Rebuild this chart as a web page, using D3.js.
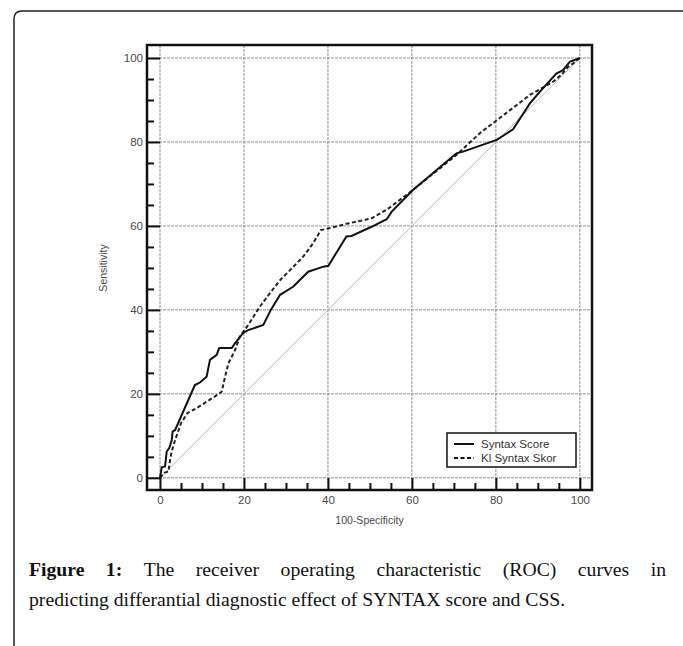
<!DOCTYPE html>
<html>
<head>
<meta charset="utf-8">
<script src="https://cdn.jsdelivr.net/npm/d3@7"></script>
<style>
  html, body { margin: 0; padding: 0; background: #fff; }
  svg { display: block; }
</style>
</head>
<body>
<div class="chart"></div>
<script>
// ROC points: [100-specificity, sensitivity]
var syntaxScore = [
    [0, 0], [0.4, 2.5], [1.2, 2.7], [1.6, 6.3], [2.2, 7.1], [2.8, 9], [3.0, 11], [3.6, 11.4],
    [8.3, 22.1], [9.5, 22.7], [11.1, 24.1], [11.9, 28.1], [13.5, 29.3], [14.1, 30.9], [17.1, 30.9],
    [17.9, 32.1], [19.8, 34.5], [21.0, 35.2], [24.6, 36.4], [26.4, 40], [28.6, 43.6], [31.7, 45.5],
    [35.3, 49.1], [38.9, 50.3], [40.1, 50.5], [44.4, 57.5], [45.6, 57.6], [50.4, 59.8], [54, 61.6],
    [55.2, 63.4], [60.3, 68.6], [70.6, 77.3], [72.2, 77.7], [80.2, 80.5], [84.1, 83], [88.1, 89.2],
    [90.5, 92], [94.4, 96.3], [96, 97.1], [97.6, 99.1], [100, 100]
];
var kiSyntaxSkor = [
    [0, 0], [1, 1.2], [2, 1.5], [2.4, 4.3], [2.8, 6.3], [3.6, 9], [5, 13], [6.5, 15.4], [8.7, 16.6],
    [13.1, 19.4], [14.7, 20.5], [15.5, 24.1], [16.3, 27.3], [17.9, 30.5], [19, 33.6], [21, 36.4],
    [23.8, 40.8], [26.2, 44], [28.6, 47.1], [31.4, 49.9], [34.1, 52.7], [36.5, 55.9], [38.3, 59],
    [40.1, 59.4], [44.4, 60.5], [50.4, 61.8], [54.2, 64], [60.3, 68.6], [70.6, 76.9], [76.2, 82.1],
    [88.1, 91.2], [93.7, 94.4], [95.6, 96], [97.2, 97.9], [98.4, 98.7], [100, 100]
];
var diagonal = [[0, 0], [100, 100]];
var majorTicks = [0, 20, 40, 60, 80, 100];
var minorTicks = [5, 10, 15, 25, 30, 35, 45, 50, 55, 65, 70, 75, 85, 90, 95];
var legendLabels = ["Syntax Score", "Kl Syntax Skor"];
var xTitle = "100-Specificity";
var yTitle = "Sensitivity";
var captionBold = ["Figure", "1:"];
var captionLine1 = "The receiver operating characteristic (ROC) curves in";
var captionLine2 = "predicting differantial diagnostic effect of SYNTAX score and CSS.";

var width = 683, height = 646;
var plotLeft = 147, plotRight = 592, plotTop = 45, plotBottom = 490;

var svg = d3.select('.chart')
    .append('svg')
    .attr('width', width)
    .attr('height', height);

// outer figure box (only top and left edges visible)
svg.append('path')
    .attr('d', 'M14,' + (height + 5) + ' L14,19 Q14,11 22,11 L' + (width + 5) + ',11')
    .attr('fill', 'none')
    .attr('stroke', '#222')
    .attr('stroke-width', 1.5);

var scaleX = d3.scaleLinear().domain([-3.1, 102.9]).range([plotLeft, plotRight]);
var scaleY = d3.scaleLinear().domain([-2.9, 103.1]).range([plotBottom, plotTop]);

var plot = svg.append('g');

// grid
plot.selectAll('.gx')
    .data(majorTicks)
    .enter()
    .append('line')
    .attr('x1', d => scaleX(d)).attr('x2', d => scaleX(d))
    .attr('y1', plotTop).attr('y2', plotBottom)
    .attr('stroke', '#8f8f8f')
    .attr('stroke-dasharray', '3,1');

plot.selectAll('.gy')
    .data(majorTicks)
    .enter()
    .append('line')
    .attr('y1', d => scaleY(d)).attr('y2', d => scaleY(d))
    .attr('x1', plotLeft).attr('x2', plotRight)
    .attr('stroke', '#8f8f8f')
    .attr('stroke-dasharray', '3,1');

var line = d3.line()
    .x(d => scaleX(d[0]))
    .y(d => scaleY(d[1]));

plot.append('path')
    .datum(diagonal)
    .attr('d', line)
    .attr('fill', 'none')
    .attr('stroke', '#b4b4b4')
    .attr('stroke-width', 1);

plot.append('path')
    .datum(kiSyntaxSkor)
    .attr('d', line)
    .attr('fill', 'none')
    .attr('stroke', '#222')
    .attr('stroke-width', 2)
    .attr('stroke-dasharray', '4,2.5');

plot.append('path')
    .datum(syntaxScore)
    .attr('d', line)
    .attr('fill', 'none')
    .attr('stroke', '#111')
    .attr('stroke-width', 2);

// axes with inward ticks
function styleAxis(g) {
    g.select('.domain').remove();
    g.selectAll('.tick line').attr('stroke', '#111').attr('stroke-width', 2);
    g.selectAll('text')
        .attr('fill', '#4a4a4a')
        .style('font-family', 'Liberation Sans, Arial, sans-serif')
        .style('font-size', '11.5px');
}

svg.append('g')
    .attr('transform', 'translate(' + plotLeft + ',0)')
    .call(d3.axisLeft(scaleY).tickValues(majorTicks).tickSize(-13).tickPadding(4))
    .call(styleAxis);

svg.append('g')
    .attr('transform', 'translate(' + plotLeft + ',0)')
    .call(d3.axisLeft(scaleY).tickValues(minorTicks).tickSize(-7).tickFormat(''))
    .call(styleAxis);

svg.append('g')
    .attr('transform', 'translate(0,' + plotBottom + ')')
    .call(d3.axisBottom(scaleX).tickValues(majorTicks).tickSize(-12).tickPadding(6))
    .call(styleAxis);

svg.append('g')
    .attr('transform', 'translate(0,' + plotBottom + ')')
    .call(d3.axisBottom(scaleX).tickValues(minorTicks).tickSize(-7).tickFormat(''))
    .call(styleAxis);

// frame
svg.append('rect')
    .attr('x', plotLeft).attr('y', plotTop)
    .attr('width', plotRight - plotLeft).attr('height', plotBottom - plotTop)
    .attr('fill', 'none')
    .attr('stroke', '#111')
    .attr('stroke-width', 2.5);

// axis titles
svg.append('text')
    .attr('x', (plotLeft + plotRight) / 2)
    .attr('y', 524)
    .attr('text-anchor', 'middle')
    .attr('fill', '#4a4a4a')
    .style('font-family', 'Liberation Sans, Arial, sans-serif')
    .style('font-size', '10.5px')
    .text(xTitle);

svg.append('text')
    .attr('transform', 'translate(107,268) rotate(-90)')
    .attr('text-anchor', 'middle')
    .attr('fill', '#4a4a4a')
    .style('font-family', 'Liberation Sans, Arial, sans-serif')
    .style('font-size', '10.5px')
    .text(yTitle);

// legend
var legend = svg.append('g').attr('transform', 'translate(447,433)');
legend.append('rect')
    .attr('width', 129).attr('height', 34)
    .attr('fill', '#fff')
    .attr('stroke', '#111')
    .attr('stroke-width', 1.5);

var items = legend.selectAll('.item')
    .data(legendLabels)
    .enter()
    .append('g')
    .attr('transform', (d, i) => 'translate(0,' + (11 + i * 14) + ')');

items.append('line')
    .attr('x1', 7).attr('x2', 27)
    .attr('stroke', '#111')
    .attr('stroke-width', 2)
    .attr('stroke-dasharray', (d, i) => i ? '4,2.5' : null);

items.append('text')
    .attr('x', 34)
    .attr('dy', '0.36em')
    .attr('fill', '#333')
    .style('font-family', 'Liberation Sans, Arial, sans-serif')
    .style('font-size', '11.5px')
    .text(d => d);

// caption, first line justified
var capFont = 'Liberation Serif, Times New Roman, serif';
var capSize = 19.7;
var capLeft = 29, capRight = 666;

svg.append('text')
    .attr('x', capLeft)
    .attr('y', 606)
    .attr('fill', '#111')
    .style('font-family', capFont)
    .style('font-size', capSize + 'px')
    .text(captionLine2);

var words = captionBold.map(w => ({ t: w, bold: true })).concat(
    captionLine1.split(' ').map(w => ({ t: w, bold: false })));

var wordNodes = svg.selectAll('.capword')
    .data(words)
    .enter()
    .append('text')
    .attr('y', 576)
    .attr('fill', '#111')
    .style('font-family', capFont)
    .style('font-size', capSize + 'px')
    .style('font-weight', d => d.bold ? 'bold' : 'normal')
    .text(d => d.t);

var widths = [];
wordNodes.each(function () { widths.push(this.getComputedTextLength()); });
var total = d3.sum(widths);
var gap = (capRight - capLeft - total) / (words.length - 1);
var pos = capLeft;
wordNodes.attr('x', function (d, i) {
    var x = pos;
    pos += widths[i] + gap;
    return x;
});
</script>
</body>
</html>
